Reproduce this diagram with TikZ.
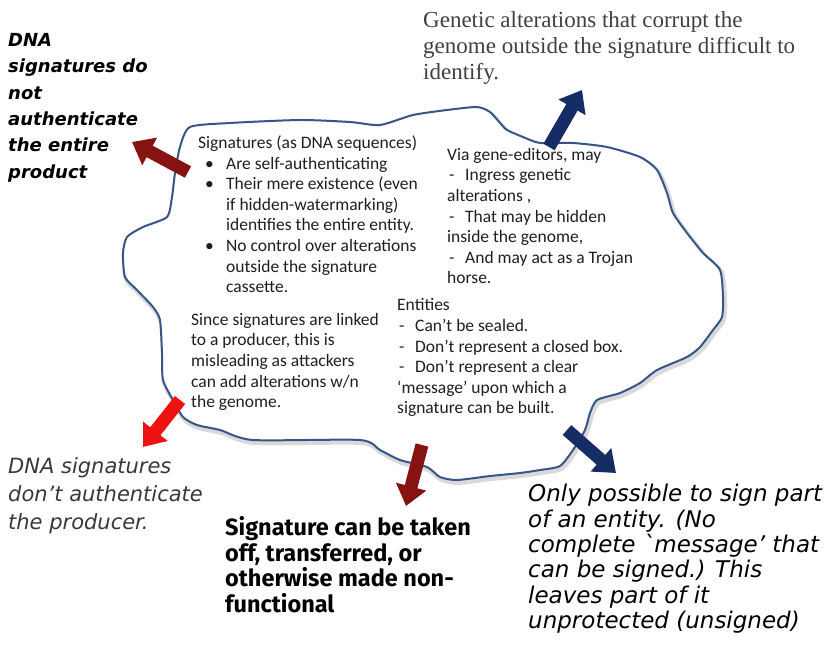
\documentclass[tikz,border=0pt]{standalone}
\usepackage{fontspec}
\setmainfont{Carlito}
\newfontfamily\fira{Fira Sans}
\newfontfamily\dvs{DejaVu Sans}
\newfontfamily\serf{Liberation Serif}
\usetikzlibrary{arrows.meta}
\definecolor{dred}{RGB}{135,18,18}
\definecolor{navy}{RGB}{22,44,100}
\definecolor{bred}{RGB}{238,18,18}
\definecolor{blobline}{RGB}{55,85,135}
\tikzset{
  inner/.style={anchor=north west, inner sep=0pt, align=left, font={\fontsize{17.5}{20.6}\selectfont}, text=black!88},
  outer/.style={anchor=north west, inner sep=0pt, align=left},
  blockarrow/.style={line width=13pt, -{Triangle[length=20pt,width=30pt]}},
}
\begin{document}
\begin{tikzpicture}[x=1pt,y=-1pt]
\useasboundingbox (0,0) rectangle (829,652);
\def\blobpts{(190,127) (230,123) (300,120) (350,122) (380,125) (413,115) (447,110) (477,107) (490,112) (500,123) (507,130) (523,137) (540,143) (573,143) (607,147) (640,157) (657,170) (667,193) (673,213) (687,233) (703,253) (720,270) (723,297) (722,317) (713,330) (700,347) (687,357) (657,370) (640,383) (620,393) (597,400) (590,413) (585,430) (573,450) (560,466) (540,470) (520,473) (490,476) (457,480) (440,477) (427,467) (400,460) (380,450) (360,440) (253,440) (220,430) (197,425) (183,417) (173,400) (163,380) (162,353) (160,320) (153,307) (137,290) (125,277) (123,253) (127,237) (143,227) (167,217) (172,197) (175,173) (180,147)}
% shadow
\draw[gray!30, line width=5pt, shift={(1.5,2.5)}] plot[smooth cycle, tension=0.4] coordinates {\blobpts};
\draw[blobline, line width=2pt, fill=white] plot[smooth cycle, tension=0.4] coordinates {\blobpts};

% inner texts
\node[inner] (sig) at (198,135.5) {Signatures (as DNA sequences)\\
\hspace*{7pt}\makebox[21pt][l]{\textbullet}Are self-authenticating\\
\hspace*{7pt}\makebox[21pt][l]{\textbullet}Their mere existence (even\\
\hspace*{28pt}if hidden-watermarking)\\
\hspace*{28pt}identifies the entire entity.\\
\hspace*{7pt}\makebox[21pt][l]{\textbullet}No control over alterations\\
\hspace*{28pt}outside the signature\\
\hspace*{28pt}cassette.};
\node[inner] (via) at (447,148) {Via gene-editors, may\\
\hspace*{2pt}\makebox[16pt][l]{-}Ingress genetic\\
alterations ,\\
\hspace*{2pt}\makebox[16pt][l]{-}That may be hidden\\
inside the genome,\\
\hspace*{2pt}\makebox[16pt][l]{-}And may act as a Trojan\\
horse.};
\node[inner] (since) at (191,313) {Since signatures are linked\\
to a producer, this is\\
misleading as attackers\\
can add alterations w/n\\
the genome.};
\node[inner] (ent) at (397,298.5) {Entities\\
\hspace*{2pt}\makebox[16pt][l]{-}Can’t be sealed.\\
\hspace*{2pt}\makebox[16pt][l]{-}Don’t represent a closed box.\\
\hspace*{2pt}\makebox[16pt][l]{-}Don’t represent a clear\\
`message’ upon which a\\
signature can be built.};

% outer texts
\node[outer, font={\dvs\bfseries\itshape\fontsize{18}{26.4}\selectfont}] (tA) at (8,33) {DNA\\signatures do\\not\\authenticate\\the entire\\product};
\node[outer, text=black!75, font={\serf\fontsize{23}{26}\selectfont}] (tB) at (423,11) {Genetic alterations that corrupt the\\genome outside the signature difficult to\\identify.};
\node[outer, text=black!78, font={\dvs\itshape\fontsize{21}{28}\selectfont}] (tC) at (8,457) {DNA signatures\\don’t authenticate\\the producer.};
\node[outer, font={\fira\bfseries\fontsize{23.5}{25.8}\selectfont}] (tD) at (225,516) {Signature can be taken\\off, transferred, or\\otherwise made non-\\functional};
\node[outer, font={\dvs\itshape\fontsize{23}{25.4}\selectfont}] (tE) at (528,484) {Only possible to sign part\\of an entity. (No\\complete `message’ that\\can be signed.) This\\leaves part of it\\unprotected (unsigned)};

% arrows
\coordinate (a1t) at (188,172); \coordinate (a1h) at (132,142);
\coordinate (a2t) at (549,147); \coordinate (a2h) at (582,90);
\coordinate (a3t) at (180,400); \coordinate (a3h) at (143,447);
\coordinate (a4t) at (422,445); \coordinate (a4h) at (406,506);
\coordinate (a5t) at (567,430); \coordinate (a5h) at (616,473);
\draw[blockarrow, dred] (a1t) -- (a1h);
\draw[blockarrow, navy] (a2t) -- (a2h);
\draw[blockarrow, bred] (a3t) -- (a3h);
\draw[blockarrow, dred] (a4t) -- (a4h);
\draw[blockarrow, navy] (a5t) -- (a5h);
\end{tikzpicture}
\end{document}
